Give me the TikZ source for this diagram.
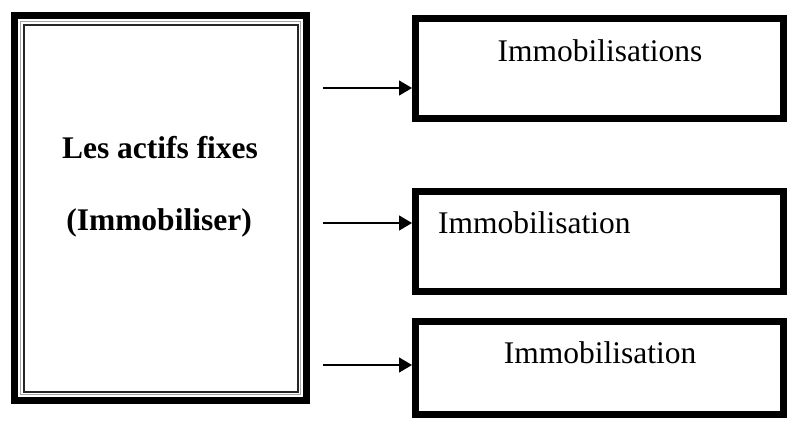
\documentclass[tikz,border=0pt]{standalone}
\usepackage{fontspec}
\setmainfont{Liberation Serif}
\usetikzlibrary{arrows.meta}
\begin{document}
\begin{tikzpicture}[x=1pt,y=-1pt,
  heavybox/.style={draw=black,line width=7pt,rectangle,inner sep=0pt,fill=white},
  txt/.style={font=\fontsize{31.5}{38}\selectfont,inner sep=0pt,anchor=base},
  btxt/.style={txt,font=\fontsize{31.5}{38}\selectfont\bfseries},
  arr/.style={line width=1.3pt,-{Triangle[length=13pt,width=15pt]}}]
\useasboundingbox (0,0) rectangle (787,421);
\fill[white] (0,0) rectangle (787,421);

% left frame: thick outer border, thin grey rule, inner black rule
\node[heavybox,minimum width=292pt,minimum height=385pt] (L) at (160.5,208) {};
\draw[gray!70,line width=1pt] (20.5,21.5) rectangle (300.5,394.5);
\draw[black!85,line width=2pt] (23.5,24.5) rectangle (297.5,391.5);
\node[btxt] (Lt1) at (160,158) {Les actifs fixes};
\node[btxt] (Lt2) at (159,230) {(Immobiliser)};

% right boxes
\node[heavybox,minimum width=368pt,minimum height=100pt] (b1) at (599.5,68.5) {};
\node[heavybox,minimum width=368pt,minimum height=100pt] (b2) at (599.5,241.5) {};
\node[heavybox,minimum width=368pt,minimum height=93pt] (b3) at (599.5,368) {};
\node[txt] (t1) at (600,61) {Immobilisations};
\node[txt,anchor=base west] (t2) at (438,233) {Immobilisation};
\node[txt] (t3) at (600,363) {Immobilisation};

% connectors
\coordinate (a1) at (323,88);
\coordinate (a2) at (323,223);
\coordinate (a3) at (323,365);
\draw[arr] (a1) -- (a1 -| b1.west);
\draw[arr] (a2) -- (a2 -| b2.west);
\draw[arr] (a3) -- (a3 -| b3.west);
\end{tikzpicture}
\end{document}
